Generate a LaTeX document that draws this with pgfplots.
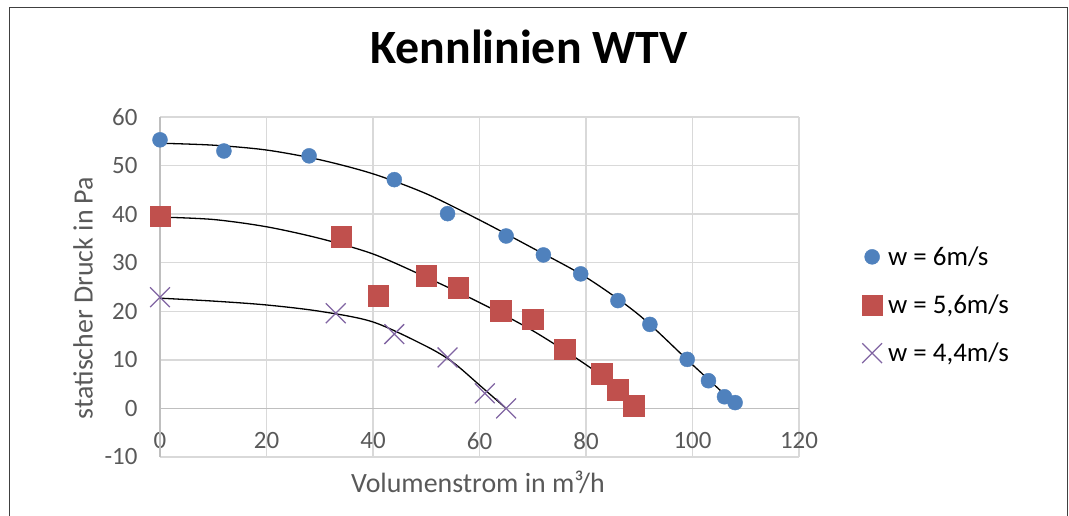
\documentclass[border=0pt]{standalone}
\usepackage{fontspec}
\setmainfont{Carlito}
\usepackage{pgfplots}
\pgfplotsset{compat=1.18}
\definecolor{xlblue}{HTML}{4F81BD}
\definecolor{xlred}{HTML}{C0504D}
\definecolor{xlpurple}{HTML}{8064A2}
\definecolor{gridgray}{HTML}{D9D9D9}
\definecolor{axgray}{HTML}{BFBFBF}
\definecolor{tickgray}{HTML}{595959}
\definecolor{framegray}{HTML}{404040}
\begin{document}
\begin{tikzpicture}
\useasboundingbox (0,0) rectangle (1069bp,516bp);
\draw[framegray, line width=1bp] (9bp,0bp) -- (9bp,508bp) -- (1067bp,508bp) -- (1067bp,0bp);
\begin{axis}[
  at={(160bp,59bp)}, anchor=south west,
  width=639bp, height=340bp, scale only axis,
  xmin=0, xmax=120, ymin=-10, ymax=60,
  xtick={0,20,...,120}, ytick={-10,0,...,60},
  grid=major, major grid style={color=gridgray, line width=1.4bp},
  axis line style={draw=none}, major tick length=0pt,
  /pgf/number format/assume math mode=true,
  ticklabel style={font=\fontsize{25}{25}\selectfont, text=tickgray},
  yticklabel style={anchor=east, xshift=-19bp},
  xticklabel style={anchor=center, yshift=16bp},
  clip=false,
  legend style={at={(1.098,0.447)}, anchor=west, draw=none, fill=none,
    font=\fontsize{27}{27}\selectfont, row sep=24bp, inner sep=0pt},
  legend cell align=left,
  legend image code/.code={\path[draw=none,fill=none] (-10.3bp,-8bp) rectangle (14bp,8bp); \draw[#1] plot coordinates {(0bp,0bp)};},
]
\draw[axgray, line width=1.4bp] (axis cs:0,0) -- (axis cs:120,0);
\draw[axgray, line width=1.4bp] (axis cs:0,-10) -- (axis cs:0,60);
% data series
\addplot[only marks, mark=*, mark size=7.5bp, color=xlblue, mark options={draw=none, fill=xlblue}] coordinates {
 (0,55.3) (12,53.0) (28,52.0) (44,47.1) (54,40.1) (65,35.5) (72,31.6)
 (79,27.7) (86,22.2) (92,17.3) (99,10.1) (103,5.7) (106,2.4) (108,1.2)};
\addlegendentry{w = 6m/s}
\addplot[only marks, mark=square*, mark size=10.3bp, color=xlred, mark options={draw=none, fill=xlred}] coordinates {
 (0,39.6) (34,35.4) (41,23.2) (50,27.3) (56,24.9) (64,20.1) (70,18.4)
 (76,12.2) (83,7.2) (86,3.8) (89,0.5)};
\addlegendentry{w = 5,6m/s}
\addplot[only marks, mark=x, mark size=14bp, color=xlpurple, mark options={line width=1.3bp}] coordinates {
 (0,22.9) (33,19.6) (44,15.3) (54,10.5) (61,3.1) (65,0.0)};
\addlegendentry{w = 4,4m/s}
% trendlines
\addplot[black, line width=1.3bp, smooth, forget plot] coordinates {
 (0,54.6) (10,54.2) (20,53.2) (30,51.2) (40,48.3) (50,44.2) (60,38.8)
 (70,33.0) (80,27.0) (90,19.2) (100,9.0) (107.8,1.1)};
\addplot[black, line width=1.3bp, smooth, forget plot] coordinates {
 (0,39.4) (10,38.9) (20,37.4) (30,35.0) (40,31.8) (50,27.0) (60,21.8)
 (70,16.0) (80,9.0) (88.9,1.9)};
\addplot[black, line width=1.3bp, smooth, forget plot] coordinates {
 (0,22.7) (10,22.1) (20,21.3) (30,20.0) (40,17.8) (50,12.8) (55,9.5)
 (60,4.8) (65,0.0)};
\end{axis}
\node[font=\bfseries\fontsize{48}{48}\selectfont, text=black] at (529bp,469bp) {Kennlinien WTV};
\node[font=\fontsize{28}{28}\selectfont, text=tickgray] at (478bp,34bp) {Volumenstrom in m³/h};
\node[font=\fontsize{28}{28}\selectfont, text=tickgray, rotate=90] at (83bp,218bp) {statischer Druck in Pa};
\end{tikzpicture}
\end{document}
